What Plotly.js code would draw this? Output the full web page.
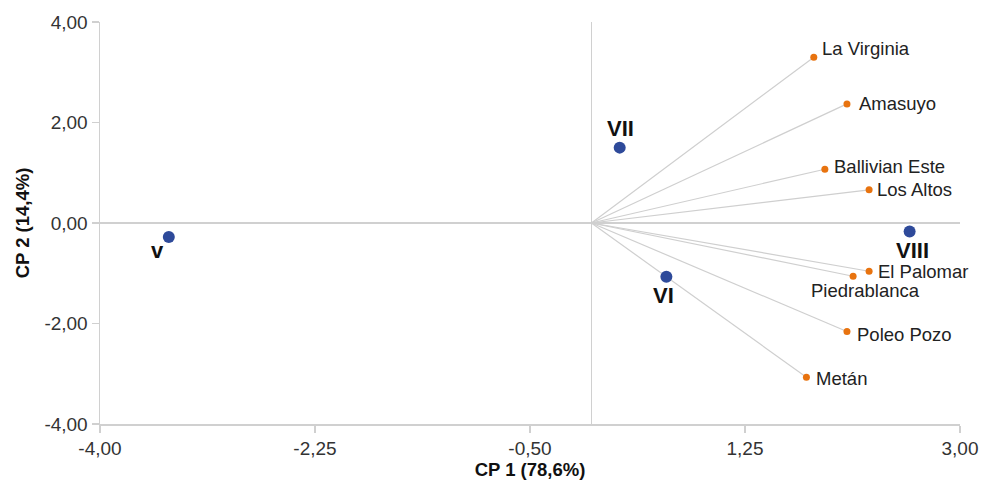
<!DOCTYPE html>
<html><head><meta charset="utf-8">
<script src="https://cdn.plot.ly/plotly-3.0.1.min.js"></script>
<style>html,body{margin:0;padding:0;background:#fff;}</style>
</head><body><div id="chart" style="width:986px;height:485px;"></div>
<script>
// Sites (variables, orange)
const siteNames = ['La Virginia', 'Amasuyo', 'Ballivian Este', 'Los Altos', 'El Palomar', 'Piedrablanca', 'Poleo Pozo', 'Metán'];
const siteX = [1.81, 2.08, 1.90, 2.26, 2.26, 2.13, 2.08, 1.75];
const siteY = [3.30, 2.37, 1.07, 0.66, -0.96, -1.06, -2.16, -3.07];
// Groups (observations, blue)
const groupNames = ['v', 'VI', 'VII', 'VIII'];
const groupX = [-3.44, 0.61, 0.23, 2.59];
const groupY = [-0.28, -1.07, 1.50, -0.17];
// Tick labels
const xTickVals = [-4, -2.25, -0.5, 1.25, 3];
const xTickText = ['-4,00', '-2,25', '-0,50', '1,25', '3,00'];
const yTickVals = [-4, -2, 0, 2, 4];
const yTickText = ['-4,00', '-2,00', '0,00', '2,00', '4,00'];

// label placement styles (pixel offsets)
const siteLabelStyle = [
  {xa:'left', xs:6, ys:9}, {xa:'left', xs:10, ys:0}, {xa:'left', xs:7, ys:3}, {xa:'left', xs:6, ys:0},
  {xa:'left', xs:7, ys:0}, {xa:'center', xs:12, ys:-14}, {xa:'left', xs:8, ys:-3}, {xa:'left', xs:8, ys:-1}
];
const groupLabelStyle = [
  {xs:-11, ys:-13}, {xs:-3, ys:-19}, {xs:1, ys:19}, {xs:3, ys:-19}
];

const lineX = siteX.flatMap(v => [0, v, null]);
const lineY = siteY.flatMap(v => [0, v, null]);

const FONT = 'Liberation Sans, Arial, Helvetica, sans-serif';

const traces = [
  {x: lineX, y: lineY, mode: 'lines', line: {color: '#cfcfcf', width: 1.2}, hoverinfo: 'skip', showlegend: false},
  {x: siteX, y: siteY, mode: 'markers', marker: {color: '#e8730f', size: 7}, showlegend: false},
  {x: groupX, y: groupY, mode: 'markers', marker: {color: '#2e4a9a', size: 12}, showlegend: false}
];

const annotations = [];
siteNames.forEach((n, i) => {
  const s = siteLabelStyle[i];
  annotations.push({x: siteX[i], y: siteY[i], text: n, showarrow: false, xanchor: s.xa, yanchor: 'middle',
    xshift: s.xs, yshift: s.ys, font: {family: FONT, size: 18.5, color: '#222'}});
});
groupNames.forEach((n, i) => {
  const s = groupLabelStyle[i];
  annotations.push({x: groupX[i], y: groupY[i], text: '<b>' + n + '</b>', showarrow: false, xanchor: 'center', yanchor: 'middle',
    xshift: s.xs, yshift: s.ys, font: {family: FONT, size: 22, color: '#111'}});
});

const layout = {
  width: 986, height: 485,
  margin: {l: 100, r: 26, t: 22, b: 61},
  paper_bgcolor: '#fff', plot_bgcolor: '#fff',
  font: {family: FONT, size: 18, color: '#333'},
  showlegend: false,
  xaxis: {
    range: [-4, 3], tickvals: xTickVals, ticktext: xTickText,
    showgrid: false, zeroline: true, zerolinecolor: '#d0d0d0', zerolinewidth: 1.5,
    showline: true, linecolor: '#d0d0d0', linewidth: 1.5,
    ticks: 'outside', ticklen: 7, tickcolor: '#d0d0d0', tickwidth: 1.5,
    tickfont: {family: FONT, size: 19, color: '#333'},
    title: {text: '<b>CP 1 (78,6%)</b>', font: {family: FONT, size: 18.5, color: '#111'}, standoff: 5},
    automargin: false
  },
  yaxis: {
    range: [-4, 4], tickvals: yTickVals, ticktext: yTickText,
    showgrid: false, zeroline: true, zerolinecolor: '#d0d0d0', zerolinewidth: 1.5,
    showline: true, linecolor: '#d0d0d0', linewidth: 1.5,
    ticks: 'outside', ticklen: 7, tickcolor: '#d0d0d0', tickwidth: 1.5,
    tickfont: {family: FONT, size: 19, color: '#333'},
    title: {text: '<b>CP 2 (14,4%)</b>', font: {family: FONT, size: 18.5, color: '#111'}, standoff: 10},
    automargin: false
  },
  annotations: annotations
};

Plotly.newPlot('chart', traces, layout, {displayModeBar: false, staticPlot: true});
</script>
</body></html>
